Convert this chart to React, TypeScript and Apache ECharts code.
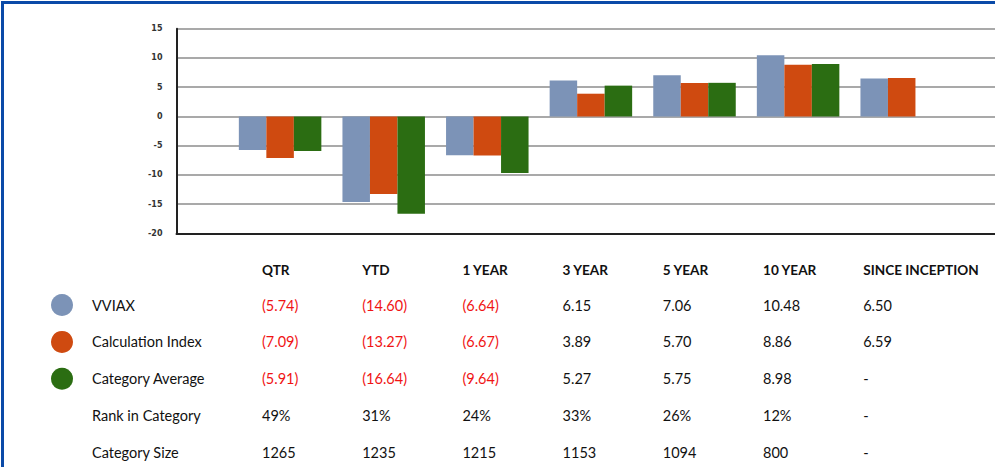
import React, { useEffect, useRef } from "react";
import * as echarts from "echarts";

const categories = ["QTR", "YTD", "1 YEAR", "3 YEAR", "5 YEAR", "10 YEAR", "SINCE INCEPTION"];
const seriesNames = ["VVIAX", "Calculation Index", "Category Average"];
const vviax = [-5.74, -14.6, -6.64, 6.15, 7.06, 10.48, 6.5];
const calcIndex = [-7.09, -13.27, -6.67, 3.89, 5.7, 8.86, 6.59];
const catAvg: (number | null)[] = [-5.91, -16.64, -9.64, 5.27, 5.75, 8.98, null];
const rankInCategory = ["49%", "31%", "24%", "33%", "26%", "12%", "-"];
const categorySize = ["1265", "1235", "1215", "1153", "1094", "800", "-"];
const yMin = -20;
const yMax = 15;
const yStep = 5;

const colors = ["#7c93b7", "#cf4a10", "#2b6d12"];

const fmt = (v: number | null) =>
  v === null ? "-" : v < 0 ? `(${Math.abs(v).toFixed(2)})` : v.toFixed(2);

export default function App() {
  const ref = useRef<HTMLDivElement>(null);
  useEffect(() => {
    if (!ref.current) return;
    const chart = echarts.init(ref.current, undefined, { renderer: "svg" });
    const font = "Lato";
    const colX = (i: number) => 262 + i * 100.2;
    const rowY = (i: number) => 305 + i * 36.9;
    const graphics: any[] = [];
    // border
    graphics.push({
      type: "rect",
      shape: { x: 2.5, y: 2.5, width: 1100, height: 1000 },
      style: { fill: "none", stroke: "#0a4aa8", lineWidth: 3 },
      z: 100,
    });
    // header
    categories.forEach((c, i) => {
      graphics.push({
        type: "text",
        x: colX(i),
        y: 270,
        style: {
          text: c,
          fill: "#111",
          font: `bold 13.6px ${font}`,
          align: "left",
          verticalAlign: "middle",
          textAlign: "left",
          textVerticalAlign: "middle",
        },
      });
    });
    const seriesData = [vviax, calcIndex, catAvg];
    const rowLabels = [...seriesNames, "Rank in Category", "Category Size"];
    rowLabels.forEach((lab, r) => {
      const y = rowY(r);
      if (r < 3) {
        graphics.push({
          type: "circle",
          shape: { cx: 62, cy: y, r: 11 },
          style: { fill: colors[r] },
        });
      }
      graphics.push({
        type: "text",
        x: 92,
        y,
        style: {
          text: lab,
          fill: "#111",
          font: `14.5px ${font}`,
          align: "left",
          verticalAlign: "middle",
          textAlign: "left",
          textVerticalAlign: "middle",
        },
      });
      for (let i = 0; i < categories.length; i++) {
        let txt: string;
        let neg = false;
        if (r < 3) {
          const v = seriesData[r][i] as number | null;
          txt = fmt(v);
          neg = v !== null && v < 0;
        } else if (r === 3) txt = rankInCategory[i];
        else txt = categorySize[i];
        graphics.push({
          type: "text",
          x: colX(i),
          y,
          style: {
            text: txt,
            fill: neg ? "#f01414" : "#111",
            font: `14.5px ${font}`,
            align: "left",
            verticalAlign: "middle",
            textAlign: "left",
            textVerticalAlign: "middle",
          },
        });
      }
    });

    const pad = (arr: (number | null)[]) => [null, ...arr, null];
    chart.setOption({
      animation: false,
      grid: {
        left: 176.5,
        top: 28.7,
        height: 233.5 - 28.7,
        width: 8 * 103.6,
        containLabel: false,
        outerBoundsMode: "none",
      },
      xAxis: {
        type: "category",
        data: ["", ...categories, ""],
        boundaryGap: false,
        axisLine: { onZero: false, lineStyle: { color: "#222", width: 2 } },
        axisTick: { show: false },
        axisLabel: { show: false },
        splitLine: { show: false },
      },
      yAxis: {
        type: "value",
        min: yMin,
        max: yMax,
        interval: yStep,
        axisLine: { show: true, lineStyle: { color: "#222", width: 2 } },
        axisTick: { show: false },
        axisLabel: {
          margin: 14,
          fontSize: 8,
          fontWeight: "bold",
          color: "#333",
          fontFamily: "DejaVu Sans",
        },
        splitLine: { show: true, lineStyle: { color: "#8c8c8c", width: 1.5 } },
      },
      series: seriesData.map((d, k) => ({
        type: "bar",
        name: seriesNames[k],
        data: pad(d),
        barWidth: 27.5,
        barGap: "0%",
        itemStyle: { color: colors[k] },
      })),
      graphic: graphics,
    });
    return () => chart.dispose();
  }, []);
  return (
    <div
      ref={ref}
      style={{ position: "absolute", left: 0, top: 0, width: 995, height: 467, background: "#fff" }}
    />
  );
}
